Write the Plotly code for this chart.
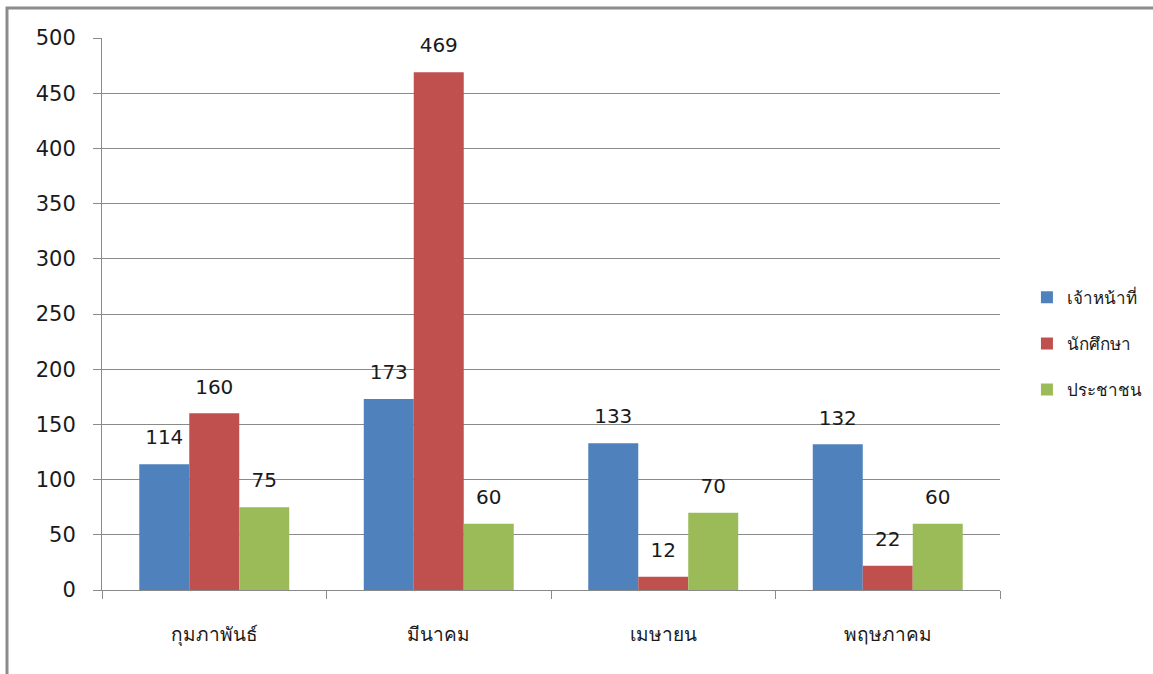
import plotly.graph_objects as go

categories = ["กุมภาพันธ์", "มีนาคม", "เมษายน", "พฤษภาคม"]
series_names = ["เจ้าหน้าที่", "นักศึกษา", "ประชาชน"]
staff = [114, 173, 133, 132]
students = [160, 469, 12, 22]
public = [75, 60, 70, 60]
y_ticks = [0, 50, 100, 150, 200, 250, 300, 350, 400, 450, 500]

colors = ["#4F81BD", "#C0504D", "#9BBB59"]
series_values = [staff, students, public]

fig = go.Figure()
for i, (name, vals) in enumerate(zip(series_names, series_values)):
    fig.add_trace(go.Bar(
        x=categories, y=vals, name=name, marker_color=colors[i],
        marker_line_width=0, offsetgroup=str(i), legendgroup=str(i),
    ))
for i, (name, vals) in enumerate(zip(series_names, series_values)):
    fig.add_trace(go.Scatter(
        x=categories, y=vals, mode="text+markers", text=[str(v) for v in vals],
        textposition="top center", marker=dict(size=22, opacity=0),
        textfont=dict(family="DejaVu Sans", size=20, color="#1a1a1a"),
        offsetgroup=str(i), legendgroup=str(i), showlegend=False,
        hoverinfo="skip", cliponaxis=False,
    ))

fig.update_layout(
    width=1153, height=674,
    margin=dict(l=102, r=153, t=38, b=84, autoexpand=False),
    paper_bgcolor="white", plot_bgcolor="white",
    barmode="group", scattermode="group", bargap=0.332, bargroupgap=0,
    font=dict(family="DejaVu Sans", color="#1a1a1a"),
    legend=dict(
        x=1.03, y=0.446, xanchor="left", yanchor="middle",
        font=dict(family="Tahoma, DejaVu Sans", size=17, color="#1a1a1a"),
        tracegroupgap=21, itemwidth=30,
    ),
    shapes=[dict(type="rect", xref="paper", yref="paper",
                 x0=-0.1058, x1=1.3, y0=-0.3, y1=1.0543,
                 line=dict(color="#8c8c8c", width=3), layer="below")],
)
fig.update_yaxes(
    range=[0, 500], tickvals=y_ticks, showgrid=True, gridcolor="#8a8a8a", gridwidth=1,
    showline=True, linecolor="#8a8a8a", linewidth=1, ticks="outside", ticklen=8,
    tickcolor="#8a8a8a", tickfont=dict(size=21, family="DejaVu Sans", color="#1a1a1a"),
    ticklabelstandoff=13, zeroline=False,
)
fig.update_xaxes(
    showline=True, linecolor="#8a8a8a", linewidth=1, ticks="outside", ticklen=8,
    tickcolor="#8a8a8a", tickson="boundaries", showgrid=False,
    tickfont=dict(size=19, family="Tahoma, Noto Sans, DejaVu Sans", color="#1a1a1a"),
    ticklabelstandoff=27,
)

fig.write_html("out.html")
